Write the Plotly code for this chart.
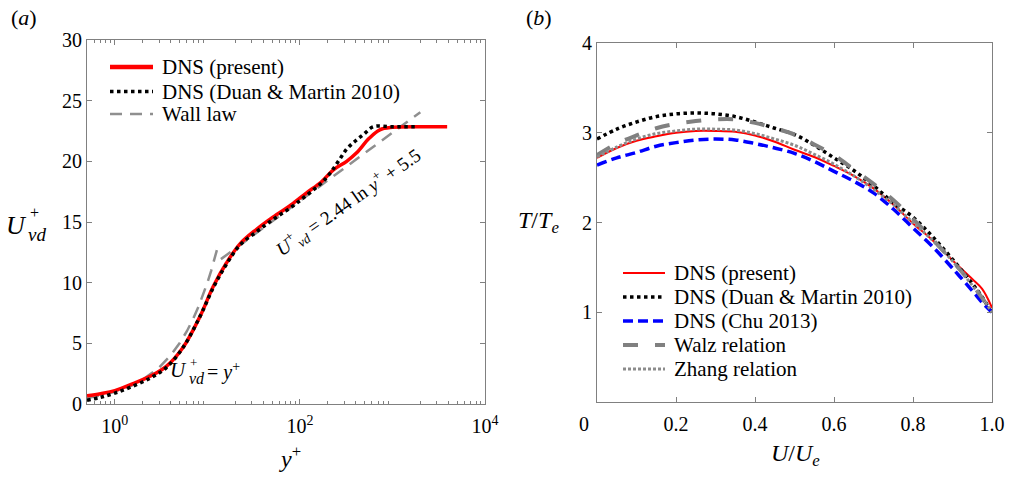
import plotly.graph_objects as go

# ---------------- Panel (a) data ----------------
yp_red = [0.5, 0.7, 1, 1.6, 2.5, 3.6, 5.5, 8.3, 11.6, 16, 22.5, 34, 51, 80, 118, 170, 230, 320, 410, 560, 730, 1000, 2000, 3900]
u_red = [0.68, 0.85, 1.1, 1.7, 2.35, 3.1, 4.7, 7.2, 9.7, 11.6, 13.2, 14.4, 15.4, 16.4, 17.4, 18.3, 19.3, 20.0, 20.7, 21.9, 22.6, 22.8, 22.85, 22.85]

yp_duan = [0.5, 0.7, 1, 1.6, 2.5, 3.6, 5.5, 8.3, 11.6, 16, 22.5, 34, 51, 80, 118, 170, 211, 260, 320, 400, 484, 620, 1000, 1900]
u_duan = [0.3, 0.55, 0.9, 1.5, 2.2, 3.0, 4.7, 7.2, 9.6, 11.5, 13.1, 14.2, 15.2, 16.2, 17.2, 18.2, 19.0, 20.0, 21.0, 21.7, 22.2, 22.85, 22.85, 22.85]

yp_lin = [0.5, 0.7, 1, 1.5, 2, 3, 4, 5, 6, 7, 8, 9, 10, 11, 12, 13]
u_lin = [0.5, 0.7, 1, 1.5, 2, 3, 4, 5, 6, 7, 8, 9, 10, 11, 12, 13]
yp_log = [14, 100, 1000, 2000]
u_log = [11.94, 16.74, 22.35, 24.05]

# ---------------- Panel (b) data ----------------
uu = [0, 0.05, 0.1, 0.15, 0.2, 0.25, 0.3, 0.35, 0.4, 0.45, 0.5, 0.55, 0.6, 0.65, 0.7, 0.75, 0.8, 0.85, 0.9, 0.95, 0.975, 1.0]
t_red = [2.72, 2.83, 2.91, 2.96, 3.00, 3.02, 3.02, 3.01, 2.97, 2.90, 2.81, 2.73, 2.63, 2.52, 2.38, 2.20, 1.99, 1.80, 1.58, 1.37, 1.26, 1.05]
t_duan = [2.93, 3.04, 3.12, 3.18, 3.21, 3.22, 3.21, 3.18, 3.12, 3.05, 2.98, 2.86, 2.72, 2.58, 2.41, 2.22, 2.06, 1.84, 1.59, 1.32, 1.17, 0.99]
t_chu = [2.64, 2.72, 2.78, 2.85, 2.89, 2.92, 2.93, 2.92, 2.88, 2.83, 2.77, 2.68, 2.57, 2.46, 2.33, 2.15, 1.94, 1.73, 1.49, 1.24, 1.11, 1.0]
t_walz = [2.75, 2.88, 2.97, 3.05, 3.10, 3.13, 3.15, 3.15, 3.11, 3.05, 2.98, 2.87, 2.75, 2.59, 2.43, 2.25, 2.04, 1.81, 1.57, 1.31, 1.16, 1.0]
t_zhang = [2.73, 2.84, 2.93, 2.99, 3.02, 3.04, 3.04, 3.03, 2.99, 2.93, 2.86, 2.76, 2.65, 2.52, 2.37, 2.20, 2.00, 1.80, 1.57, 1.30, 1.16, 1.0]

ya_ticks = [0, 5, 10, 15, 20, 25, 30]
xa_ticks = [1, 100, 10000]
xa_text = ["10<sup>0</sup>", "10<sup>2</sup>", "10<sup>4</sup>"]
xb_ticks = [0.2, 0.4, 0.6, 0.8, 1.0]
xb_text = ["0.2", "0.4", "0.6", "0.8", "1.0"]
yb_ticks = [1, 2, 3, 4]

legend_a = ["DNS (present)", "DNS (Duan & Martin 2010)", "Wall law"]
legend_b = ["DNS (present)", "DNS (Duan & Martin 2010)", "DNS (Chu 2013)", "Walz relation", "Zhang relation"]

FONT = "Liberation Serif"
W, H = 1012, 479
AX = "#808080"

# line styles
S_RED_A = dict(color="#ff0000", width=4.5)
S_BLACK = dict(color="#000000", width=3.5, dash="3.5px,3.5px")
S_WALL = dict(color="#8f8f8f", width=2.5, dash="12px,8px")
S_RED_B = dict(color="#ff0000", width=2)
S_BLUE = dict(color="#0000ff", width=3.5, dash="10px,5px")
S_WALZ = dict(color="#808080", width=4, dash="15px,17px")
S_ZHANG = dict(color="#8c8c8c", width=3, dash="3px,2px")

fig = go.Figure()

# panel (a)
fig.add_trace(go.Scatter(x=yp_lin, y=u_lin, mode="lines", name="Wall law", showlegend=False,
                         line=S_WALL, xaxis="x", yaxis="y"))
fig.add_trace(go.Scatter(x=yp_log, y=u_log, mode="lines", name="Wall law", showlegend=False,
                         line=S_WALL, xaxis="x", yaxis="y"))
fig.add_trace(go.Scatter(x=yp_red, y=u_red, mode="lines", name=legend_a[0], showlegend=False,
                         line=dict(S_RED_A, shape="spline", width=3.5), xaxis="x", yaxis="y"))
fig.add_trace(go.Scatter(x=yp_duan, y=u_duan, mode="lines", name=legend_a[1], showlegend=False,
                         line=dict(S_BLACK, shape="spline"), xaxis="x", yaxis="y"))

# panel (b)
for t, nm, st in [(t_red, legend_b[0], S_RED_B), (t_duan, legend_b[1], S_BLACK),
                  (t_chu, legend_b[2], S_BLUE), (t_walz, legend_b[3], S_WALZ),
                  (t_zhang, legend_b[4], S_ZHANG)]:
    fig.add_trace(go.Scatter(x=uu, y=t, mode="lines", name=nm, showlegend=False,
                             line=dict(st, shape="spline"), xaxis="x2", yaxis="y2"))


def px(x):
    return x / W


def py(y):
    return 1 - y / H


axis_common = dict(showline=True, linecolor=AX, linewidth=1, mirror="ticks",
                   ticks="inside", tickcolor=AX, ticklen=5, showgrid=False, zeroline=False,
                   automargin=False,
                   tickfont=dict(family=FONT, size=20, color="black"))

minor_vals = [m * 10 ** k for k in range(-1, 4) for m in range(2, 10)]
minor_vals = [v for v in minor_vals if 0.5 <= v <= 10000]

annotations = []
shapes = []


def ann(text, x, y, size=20, angle=0, xanchor="center", yanchor="middle"):
    annotations.append(dict(text=text, x=px(x), y=py(y), xref="paper", yref="paper",
                            showarrow=False, xanchor=xanchor, yanchor=yanchor, textangle=angle,
                            font=dict(family=FONT, size=size, color="black")))


def legend_row(x0, x1, y, style, text, xt):
    shapes.append(dict(type="line", xref="paper", yref="paper", x0=px(x0), x1=px(x1),
                       y0=py(y), y1=py(y), line=style))
    ann(text, xt, y, size=21, xanchor="left")


# manual legends
for i, st in enumerate([S_RED_A, S_BLACK, S_WALL]):
    legend_row(110, 153, [67, 91.5, 114][i], st, legend_a[i], 160)
for i, st in enumerate([S_RED_B, S_BLACK, S_BLUE, S_WALZ, S_ZHANG]):
    legend_row(623, 665, 273 + 24 * i, st, legend_b[i], 672)

ann("(<i>a</i>)", 24, 17, size=22)
ann("(<i>b</i>)", 539, 17, size=22)

# y title of (a): U with stacked + and vd
ann("<i>U</i>", 29, 225, size=26, xanchor="right")
ann("+", 28, 212, size=16, xanchor="left")
ann("<i>vd</i>", 26, 234, size=19, xanchor="left")

ann("<i>T</i>/<i>T</i><sub><i>e</i></sub>", 538, 222, size=24)
ann("<i>y</i><sup>+</sup>", 290, 457, size=24)
ann("<i>U</i>/<i>U</i><sub><i>e</i></sub>", 795, 455, size=24)
ann("0", 584, 424, size=20)

# U+vd = y+ with stacked script
ann("<i>U</i>", 189, 370, size=21, xanchor="right")
ann("+", 188, 362, size=13, xanchor="left")
ann("<i>vd</i>", 187, 378, size=16, xanchor="left")
ann("= <i>y</i><sup>+</sup>", 205, 371, size=20, xanchor="left")

ann("<i>U</i><sup>+</sup><sub><i>vd</i></sub> = 2.44 ln <i>y</i><sup>+</sup> + 5.5", 348, 203, size=19, angle=-35)

fig.update_layout(
    width=W, height=H, autosize=False,
    margin=dict(l=0, r=0, t=0, b=0, pad=0),
    paper_bgcolor="white", plot_bgcolor="white",
    font=dict(family=FONT, size=20, color="black"),
    showlegend=False,
    xaxis=dict(domain=[px(87), px(485)], type="log", range=[-0.301, 4],
               tickvals=xa_ticks, ticktext=xa_text, ticklabelstandoff=4,
               minor=dict(ticks="inside", ticklen=3, tickcolor=AX, tickvals=minor_vals),
               anchor="y", **axis_common),
    yaxis=dict(domain=[py(404), py(40)], range=[0, 30], tickvals=ya_ticks, anchor="x", **axis_common),
    xaxis2=dict(domain=[px(597), px(992)], range=[0, 1], tickvals=xb_ticks, ticktext=xb_text,
                ticklabelstandoff=4, anchor="y2", **axis_common),
    yaxis2=dict(domain=[py(402), py(43)], range=[0, 4], tickvals=yb_ticks, anchor="x2", **axis_common),
    annotations=annotations,
    shapes=shapes,
)

fig.write_html("out.html", config={"responsive": False})
